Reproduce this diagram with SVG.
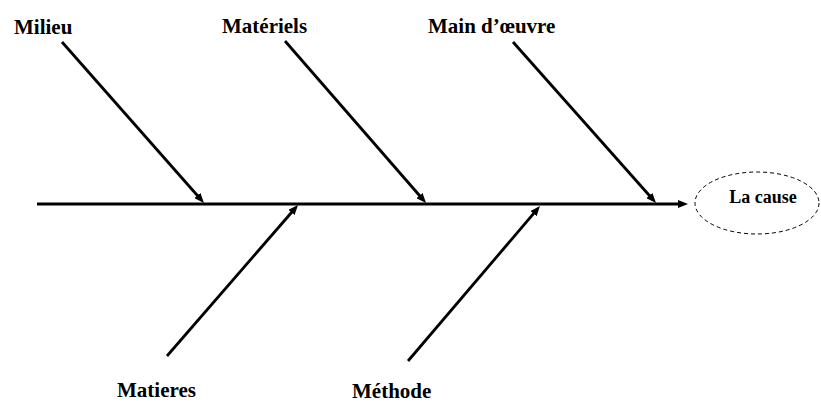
<svg xmlns="http://www.w3.org/2000/svg" width="821" height="403" viewBox="0 0 821 403">
  <style>
    .lbl { font-family: "Liberation Serif", "Times New Roman", serif; font-weight: bold; font-size: 21px; fill: #000; }
    .small { font-size: 18px; }
    .branch { stroke: #000; stroke-width: 2.8; fill: none; marker-end: url(#arrow); }
  </style>
  <defs>
    <marker id="arrow" markerUnits="userSpaceOnUse" markerWidth="10" markerHeight="8" refX="2" refY="4" orient="auto">
      <path d="M0,0 L10,4 L0,8 z" fill="#000"/>
    </marker>
  </defs>
  <rect width="821" height="403" fill="#fff"/>
  <g id="connectors">
    <line class="branch" x1="37" y1="204" x2="680" y2="204" style="stroke-width:3"/>
    <line class="branch" x1="62" y1="42" x2="198.7" y2="197"/>
    <line class="branch" x1="285" y1="41" x2="420.8" y2="197"/>
    <line class="branch" x1="513" y1="42" x2="650.7" y2="197"/>
    <line class="branch" x1="167" y1="356" x2="292.8" y2="211"/>
    <line class="branch" x1="408" y1="361" x2="534.8" y2="212.1"/>
  </g>
  <g id="milieu"><text class="lbl" x="14" y="34">Milieu</text></g>
  <g id="materiels"><text class="lbl" x="222" y="33">Matériels</text></g>
  <g id="main-oeuvre"><text class="lbl" x="428" y="33">Main d’œuvre</text></g>
  <g id="matieres"><text class="lbl" x="117" y="397">Matieres</text></g>
  <g id="methode"><text class="lbl" x="352" y="398">Méthode</text></g>
  <g id="la-cause">
    <ellipse cx="757" cy="203" rx="62" ry="31" fill="none" stroke="#000" stroke-width="1" stroke-dasharray="4,3"/>
    <text class="lbl small" x="763" y="203" text-anchor="middle">La cause</text>
  </g>
</svg>
